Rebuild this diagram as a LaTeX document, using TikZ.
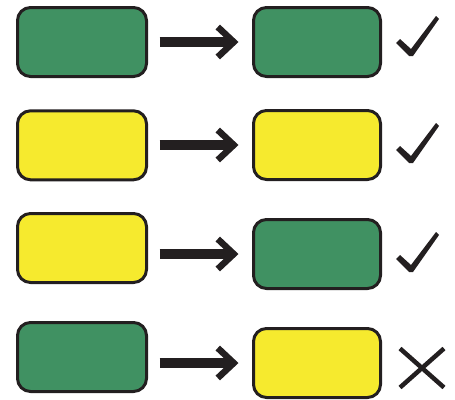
\documentclass[tikz,border=0pt]{standalone}
\usetikzlibrary{arrows.meta}
\definecolor{ink}{HTML}{231F20}
\definecolor{boxgreen}{HTML}{409162}
\definecolor{boxyellow}{HTML}{F6EA2E}
\begin{document}
\begin{tikzpicture}[x=1pt,y=-1pt,
  box/.style={draw=ink,line width=3pt,rounded corners=13pt,inner sep=0pt,outer sep=0pt,minimum height=69pt},
  lbox/.style={box,minimum width=129pt},
  rbox/.style={box,minimum width=127pt},
  gbox/.style={fill=boxgreen},
  ybox/.style={fill=boxyellow},
  conn/.style={draw=ink,line width=9.5pt,shorten <=13pt,shorten >=15pt,
    -{Straight Barb[length=16pt,width=30pt,line width=6.5pt]}},
  checkmark/.pic={\fill[ink] (-15,-13) -- (-11,-17) -- (0,-7) -- (25,-40) -- (28,-37) -- (2,0) -- (-2,0) -- cycle;},
  crossmark/.pic={\draw[ink,line width=4.5pt] (-22,-19) -- (22,20) (22,-19) -- (-22,20);}
]
\useasboundingbox (0,0) rectangle (455,399);
% left boxes
\node[lbox,gbox] (l1) at (82,42) {};
\node[lbox,ybox] (l2) at (82,145.3) {};
\node[lbox,ybox] (l3) at (82,248) {};
\node[lbox,gbox] (l4) at (82,357) {};
% right boxes
\node[rbox,gbox] (r1) at (317,42) {};
\node[rbox,ybox] (r2) at (317,145) {};
\node[rbox,gbox] (r3) at (317,254) {};
\node[rbox,ybox] (r4) at (317,363) {};
% connectors
\draw[conn] (l1.east |- r1.west) -- (r1.west);
\draw[conn] (l2.east |- r2.west) -- (r2.west);
\draw[conn] (l3.east |- r3.west) -- (r3.west);
\draw[conn] (l4.east |- r4.west) -- (r4.west);
% marks
\pic at (411,56) {checkmark};
\pic at (411,163) {checkmark};
\pic at (411,272) {checkmark};
\pic at (422,367.5) {crossmark};
\end{tikzpicture}
\end{document}
